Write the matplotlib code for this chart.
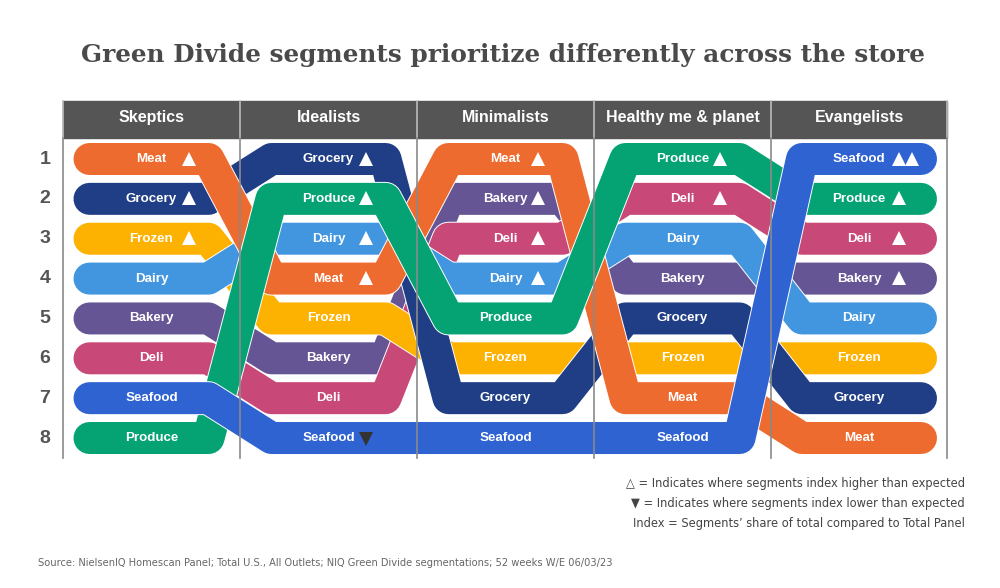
import matplotlib.pyplot as plt
import matplotlib.patheffects as pe
from matplotlib.patches import Rectangle

# segments (columns) and each one's ranking, top to bottom
segments = ['Skeptics', 'Idealists', 'Minimalists', 'Healthy me & planet', 'Evangelists']
skeptics = ['Meat', 'Grocery', 'Frozen', 'Dairy', 'Bakery', 'Deli', 'Seafood', 'Produce']
idealists = ['Grocery', 'Produce', 'Dairy', 'Meat', 'Frozen', 'Bakery', 'Deli', 'Seafood']
minimalists = ['Meat', 'Bakery', 'Deli', 'Dairy', 'Produce', 'Frozen', 'Grocery', 'Seafood']
healthy = ['Produce', 'Deli', 'Dairy', 'Bakery', 'Grocery', 'Frozen', 'Meat', 'Seafood']
evangelists = ['Seafood', 'Produce', 'Deli', 'Bakery', 'Dairy', 'Frozen', 'Grocery', 'Meat']

# index flags per rank: 'up' = higher than expected, 'down' = lower
skeptics_idx = ['up', 'up', 'up', '', '', '', '', '']
idealists_idx = ['up', 'up', 'up', 'up', '', '', '', 'down']
minimalists_idx = ['up', 'up', 'up', 'up', '', '', '', '']
healthy_idx = ['up', 'up', '', '', '', '', '', '']
evangelists_idx = ['upup', 'up', 'up', 'up', '', '', '', '']

ranks = [1, 2, 3, 4, 5, 6, 7, 8]

rankings = [skeptics, idealists, minimalists, healthy, evangelists]
flags = [skeptics_idx, idealists_idx, minimalists_idx, healthy_idx, evangelists_idx]

colors = {
    'Meat': '#EE6B2F',
    'Grocery': '#1F3E86',
    'Frozen': '#FDB100',
    'Dairy': '#4296E0',
    'Bakery': '#665594',
    'Deli': '#C84877',
    'Seafood': '#2F63D1',
    'Produce': '#05A374',
}
# drawing order, bottom first
layer = ['Bakery', 'Deli', 'Frozen', 'Dairy', 'Grocery', 'Meat', 'Produce', 'Seafood']

fig = plt.figure(figsize=(10, 5.88), dpi=100)
ax = fig.add_axes([0, 0, 1, 1])
ax.set_xlim(0, 1000)
ax.set_ylim(588, 0)
ax.axis('off')

edges = [63, 240, 417, 594, 771, 947]
centers = [(edges[i] + edges[i + 1]) / 2 for i in range(5)]
y0, dy = 159, 39.86
w = 57
tri_off = [37.5, 37.5, 32.5, 37.5, 40]

def row_y(r):
    return y0 + (r - 1) * dy

lw = 32 * 72 / 100
for z, cat in enumerate(layer):
    xs, ys = [], []
    for j, order in enumerate(rankings):
        y = row_y(order.index(cat) + 1)
        left = centers[j] - (62 if j == 0 else w)
        right = centers[j] + (62 if j == len(rankings) - 1 else w)
        xs += [left, right]
        ys += [y, y]
    ax.plot(xs, ys, color=colors[cat], lw=lw, solid_capstyle='round',
            solid_joinstyle='round', zorder=2 + z,
            path_effects=[pe.Stroke(linewidth=lw + 1.4, foreground='white'), pe.Normal()])

# labels and index triangles
for j, (order, fl) in enumerate(zip(rankings, flags)):
    for r, cat, f in zip(ranks, order, fl):
        y = row_y(r)
        ax.text(centers[j], y, cat, ha='center', va='center', color='white',
                fontsize=9.6, fontweight='bold', family='Liberation Sans', zorder=20)
        tx = centers[j] + tri_off[j]
        if f == 'up':
            ax.plot(tx, y - 0.5, marker='^', ms=10, color='white', mew=0, zorder=21)
        elif f == 'upup':
            ax.plot([tx, tx + 13], [y - 0.5, y - 0.5], ls='none', marker='^', ms=10,
                    color='white', mew=0, zorder=21)
        elif f == 'down':
            ax.plot(tx, y + 0.5, marker='v', ms=10, color='#333333', mew=0, zorder=21)

# header band
ax.add_patch(Rectangle((edges[0], 101), edges[-1] - edges[0], 37, color='#555555', zorder=15))
for j, seg in enumerate(segments):
    ax.text(centers[j], 117.5, seg, ha='center', va='center', color='white',
            fontsize=11.5, fontweight='bold', family='Liberation Sans', zorder=22)
for e in edges:
    ax.plot([e, e], [101, 138], color='#bbbbbb', lw=1.2, zorder=16)
    ax.plot([e, e], [138, 458], color='#8a8a8a', lw=1.2, zorder=18)

# rank numbers
for r in ranks:
    ax.text(45, row_y(r), str(r), ha='center', va='center', color='#555555',
            fontsize=14, fontweight='bold', family='Liberation Sans')

ax.text(503, 55, 'Green Divide segments prioritize differently across the store',
        ha='center', va='center', color='#4a4a4a', fontsize=17.8, family='DejaVu Serif',
        fontweight='bold')

legend_lines = ['\u25b3 = Indicates where segments index higher than expected',
                '\u25bc = Indicates where segments index lower than expected',
                'Index = Segments\u2019 share of total compared to Total Panel']
for i, t in enumerate(legend_lines):
    ax.text(965, 483 + i * 20, t, ha='right', va='center', color='#444444',
            fontsize=9.2, family='DejaVu Sans', fontstretch='condensed')

ax.text(38, 563, 'Source: NielsenIQ Homescan Panel; Total U.S., All Outlets; NIQ Green Divide '
        'segmentations; 52 weeks W/E 06/03/23', ha='left', va='center', color='#666666',
        fontsize=7.95, family='DejaVu Sans', fontstretch='condensed')

fig.savefig('out.png', dpi=100)
